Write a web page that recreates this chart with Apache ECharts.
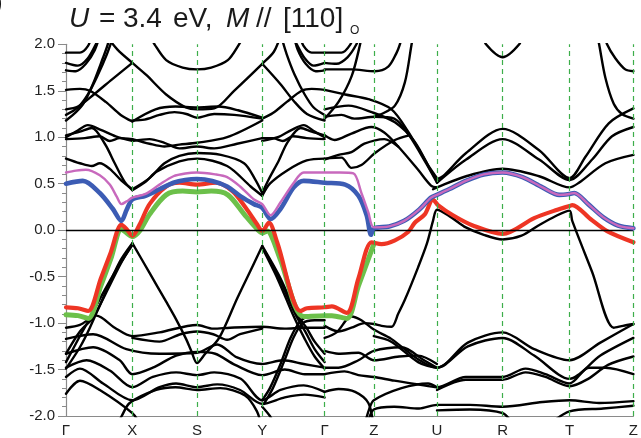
<!DOCTYPE html>
<html><head><meta charset="utf-8">
<script src="https://cdn.jsdelivr.net/npm/echarts@6/dist/echarts.min.js"></script>
<style>html,body{margin:0;padding:0;background:#fff}#c{width:641px;height:438px}</style>
</head><body><div id="c"></div>
<script>
// High-symmetry path
const kLabels = ['Γ','X','S','Y','Γ','Z','U','R','T','Z'];
const kTicks  = [0, 66.7, 131.7, 197.3, 260, 309.5, 373, 439, 506.3, 570.5];
const yTicks  = [-2.0,-1.5,-1.0,-0.5,0.0,0.5,1.0,1.5,2.0];

// Highlighted bands: flat [k, E, k, E, ...]
const pinkBand = [0,0.62, 10,0.64, 20,0.65, 34,0.59, 44,0.49, 51,0.36, 55.7,0.28, 61,0.31, 66.7,0.35, 80,0.39, 94,0.49, 108,0.58, 120,0.61, 131.7,0.62, 150,0.60, 162,0.57, 175,0.47, 189,0.33, 197.3,0.28, 205.7,0.16, 215.7,0.30, 229,0.51, 239,0.62, 260,0.62, 275,0.62, 289,0.61, 297,0.40, 304,0.19, 309.5,0.03, 325,0.04, 340,0.10, 355,0.22, 367,0.35, 373,0.38, 385,0.44, 402,0.53, 420,0.60, 439,0.62, 459,0.57, 479,0.46, 496,0.38, 506.3,0.39, 511,0.40, 525,0.28, 540,0.14, 555,0.05, 570.5,0.02];
const blueBand = [0,0.50, 17,0.53, 34,0.40, 47,0.23, 55.7,0.10, 61,0.22, 66.7,0.33, 80,0.37, 94,0.44, 108,0.51, 120,0.54, 131.7,0.55, 147,0.53, 162,0.47, 176,0.36, 189,0.28, 197.3,0.24, 205.7,0.12, 215.7,0.23, 229,0.46, 239,0.53, 260,0.51, 280.7,0.49, 294,0.37, 302.3,0.16, 306.7,-0.05, 309.5,0.02, 325,0.04, 340,0.10, 355,0.22, 367,0.35, 373,0.38, 385,0.44, 402,0.53, 420,0.60, 439,0.62, 459,0.57, 479,0.46, 496,0.38, 506.3,0.39, 511,0.40, 525,0.28, 540,0.14, 555,0.05, 570.5,0.02];
const redBand = [0,-0.83, 12,-0.84, 22.3,-0.87, 35,-0.52, 45,-0.24, 55.7,0.06, 61,0.01, 66.7,-0.06, 74,0.06, 84,0.28, 100.7,0.47, 114,0.51, 131.7,0.49, 150.7,0.51, 167.3,0.42, 180.7,0.24, 192.3,0.06, 197.3,-0.01, 204,0.08, 212.3,-0.13, 235.7,-0.87, 242.3,-0.84, 260,-0.83, 267.3,-0.82, 282.3,-0.89, 294,-0.52, 307.3,-0.13, 317.3,-0.15, 330.7,-0.11, 344,-0.02, 350.7,0.08, 360.7,0.17, 369,0.33, 374,0.27, 389,0.16, 409,0.05, 439,-0.04, 470.7,0.13, 494,0.22, 506.3,0.26, 509,0.27, 527.3,0.12, 544,-0.01, 570.5,-0.13];
const greenBand = [0,-0.91, 12,-0.92, 22.3,-0.95, 35,-0.60, 45,-0.31, 55.7,0.01, 61,-0.03, 66.7,-0.07, 74,-0.01, 84,0.17, 100.7,0.38, 117.3,0.42, 131.7,0.41, 146,0.42, 162.7,0.38, 179.3,0.17, 189,0.05, 197.3,-0.03, 202.3,-0.01, 207.3,-0.08, 216,-0.33, 239,-0.93, 260,-0.92, 267.3,-0.92, 282.3,-0.95, 294,-0.60, 309.5,-0.15];

// Black bands, upper part, Γ–X
const blackGX = [
 [0,1.91, 14,1.91, 22,1.98, 26,2.1],
 [0,1.80, 12,1.77, 22,1.85, 30,2.0, 34,2.1],
 [0,1.72, 10,1.71, 20,1.79, 29,1.94, 34,2.1],
 [0,1.18, 10,1.27, 18,1.37, 27,1.57, 37,1.85, 42,2.0, 44,2.1],
 [0,1.24, 12,1.32, 22,1.46, 32,1.67, 41,1.89, 48,2.1],
 [0,1.30, 12,1.33, 28,1.46, 46,1.62, 66.7,1.80],
 [0,1.51, 14,1.52, 24,1.50, 40,1.38, 55,1.24, 66.7,1.17],
 [0,1.02, 14,1.06, 26,1.10, 39,0.93, 49,0.72, 59,0.52, 66.7,0.43],
 [0,0.98, 19,0.99, 34,1.01, 44,0.96, 54,0.99, 66.7,0.98],
 [0,1.00, 10,1.06, 22,1.13, 35,1.08, 50,1.01, 66.7,0.96],
 [0,0.77, 14,0.72, 26,0.69, 34,0.72, 44,0.66, 56,0.53, 66.7,0.44]
];
// Black bands, upper part, X–S–Y
const blackXSY = [
 [40,2.1, 52,1.94, 66.7,1.80, 80.7,1.67, 100.7,1.46, 120.7,1.32, 131.7,1.30, 149,1.31, 169,1.50, 197.3,1.79, 209,1.92, 216,2.1],
 [84,2.1, 89,2.0, 100.7,1.83, 117.3,1.75, 131.7,1.73, 146,1.75, 162.7,1.83, 174,2.0, 179,2.1],
 [66.7,1.18, 79,1.19, 94,1.24, 109,1.27, 121,1.25, 131.7,1.21, 149,1.25, 169,1.24, 197.3,1.20],
 [66.7,1.17, 90,1.30, 110,1.33, 131.7,1.32, 153,1.33, 173,1.29, 197.3,1.21],
 [66.7,0.98, 84,0.93, 99,0.90, 114,0.92, 131.7,0.94, 162,1.00, 197.3,1.18],
 [66.7,0.96, 84,0.98, 99,0.94, 114,0.88, 131.7,0.90, 149,0.88, 172,0.93, 197.3,0.99],
 [66.7,0.43, 80,0.52, 91,0.63, 114,0.74, 131.7,0.77, 162,0.69, 185.7,0.47, 197.3,0.37],
 [66.7,0.44, 84,0.56, 99,0.72, 114,0.80, 131.7,0.83, 155.7,0.81, 179,0.72, 190,0.55, 197.3,0.40]
];
// Black bands, upper part, Y–Γ
const blackYG = [
 [235,2.1, 239,1.98, 247,1.91, 260,1.91],
 [228,2.1, 232,2.0, 240,1.85, 249,1.77, 260,1.80],
 [229,2.1, 233,1.94, 241,1.79, 251,1.71, 260,1.72],
 [197.3,1.79, 215.7,1.57, 229,1.39, 242.3,1.25, 260,1.18],
 [216,2.1, 222,1.89, 230,1.67, 240,1.46, 249,1.32, 260,1.24],
 [197.3,1.20, 208,1.26, 222,1.38, 237,1.50, 247,1.52, 260,1.51],
 [197.3,0.40, 204,0.55, 214,0.75, 223,0.95, 236,1.10, 247,1.06, 260,1.02],
 [197.3,0.99, 208,0.99, 218,0.96, 228,1.01, 242,0.99, 260,0.98],
 [197.3,0.96, 213,1.00, 227,1.08, 239,1.13, 250,1.06, 260,1.00],
 [197.3,0.37, 205,0.50, 222,0.64, 242,0.75, 260,0.77]
];
// Black bands, upper part, Γ–Z–U
const blackGZ = [
 [260,1.91, 277,1.91, 286,2.0, 289,2.1],
 [260,1.80, 272,1.79, 283,1.86, 292,2.0, 295,2.1],
 [260,1.73, 287,1.73, 310.7,1.71, 324,1.76, 332,1.9, 335.7,2.0, 338,2.1],
 [260,1.20, 274,1.38, 287.3,1.66, 295.7,2.0, 297,2.1],
 [310.7,1.23, 317.3,1.25, 330.7,1.34, 340.7,1.59, 347.3,1.99, 349,2.1],
 [260,1.51, 280.7,1.46, 304,1.41, 327.3,1.30, 344,1.06, 364,0.70, 373,0.56],
 [260,1.30, 284,1.34, 307.3,1.27, 330.7,1.16, 350.7,0.95, 367.3,0.63, 373,0.54],
 [260,1.22, 277,1.24, 290,1.20, 310.7,1.22, 330,1.20, 345,1.02, 362,0.72, 373,0.51],
 [260,1.02, 270,0.97, 287,1.04, 307,1.11, 320,1.05, 334,0.90, 354,0.65, 367,0.48, 373,0.46],
 [260,0.76, 274,0.81, 287,0.84, 300,0.93, 320,0.98, 334,0.90],
 [260,0.77, 277,0.78, 287,0.67, 297,0.70, 310.7,0.83, 330.7,0.97, 345,1.02]
];
// Black bands, upper part, U–R–T–Z
const blackURTZ = [
 [373,0.55, 379,0.58, 402.3,0.83, 439,1.09, 475.7,0.86, 506.3,0.56, 522.3,0.79, 545.7,1.15, 570.5,1.31],
 [373,0.51, 402.3,0.76, 439,0.98, 475.7,0.76, 506.3,0.54, 529,0.76, 549,1.01, 570.5,1.11],
 [369,0.44, 373,0.46, 402.3,0.58, 439,0.66, 475.7,0.58, 506.3,0.46, 515.7,0.51, 542.3,0.72, 570.5,0.81],
 [534,2.1, 536,2.0, 542.3,1.64, 550.7,1.36, 559,1.25, 570.5,1.20],
 [542,2.1, 544,2.0, 552.3,1.85, 562.3,1.73, 570.5,1.71],
 [420,2.1, 422.3,2.0, 439,1.86, 455.7,2.0, 458,2.1]
];
// Black bands, lower part, Γ–X–S–Y–Γ
const blackLowA = [
 [0,-1.49, 14,-1.26, 24,-1.05, 37.3,-0.73, 54,-0.34, 66.7,-0.14],
 [0,-1.33, 14,-1.09, 27.3,-0.94, 40,-0.68, 55,-0.36, 66.7,-0.15],
 [0,-1.42, 12,-1.18, 22.3,-0.98, 35,-0.72, 52,-0.40, 66.7,-0.16],
 [66.7,-0.14, 84,-0.46, 100.7,-0.77, 110.7,-0.96, 120.7,-1.17, 126,-1.30, 131.7,-1.43, 140,-1.33, 154,-1.16, 172.3,-0.73, 188,-0.38, 197.3,-0.17],
 [197.3,-0.17, 215.7,-0.52, 232.3,-0.91, 242.3,-1.06, 250,-1.20, 260,-1.33],
 [197.3,-0.18, 214,-0.51, 230.3,-0.90, 241,-1.10, 250,-1.28, 260,-1.42],
 [197.3,-0.19, 213,-0.53, 229,-0.93, 240,-1.17, 250,-1.36, 260,-1.49],
 [0,-1.05, 14,-1.02, 30.7,-0.92, 49,-1.05, 66.7,-1.14, 94,-1.10, 131.7,-1.02, 148,-1.06, 165,-1.05, 197.3,-1.04, 220,-1.06, 239,-1.05, 260,-1.05],
 [66.7,-1.16, 94,-1.20, 115,-1.12, 131.7,-1.09, 148,-1.12, 162,-1.18, 175,-1.12, 197.3,-1.06],
 [0,-1.17, 27.3,-1.12, 60.7,-1.28, 94,-1.33, 131.7,-1.32, 152,-1.23, 172,-1.37, 197.3,-1.44, 218,-1.40, 239,-1.44, 260,-1.48],
 [0,-1.33, 27.3,-1.26, 54,-1.40, 66.7,-1.55, 87.3,-1.48, 110.7,-1.35, 131.7,-1.31, 150,-1.33, 170,-1.45, 197.3,-1.56, 220,-1.50, 240,-1.55, 260,-1.55],
 [0,-1.48, 20.7,-1.40, 44,-1.51, 66.7,-1.69, 87.3,-1.58, 110.7,-1.53, 131.7,-1.56, 149,-1.53, 175.7,-1.60, 197.3,-1.83, 215.7,-1.72, 239,-1.67, 260,-1.74],
 [0,-1.58, 14,-1.49, 37.3,-1.65, 66.7,-1.83, 94,-1.69, 110.7,-1.65, 131.7,-1.69, 152,-1.66, 175,-1.72, 197.3,-1.87, 220,-1.80, 240,-1.77, 260,-1.80],
 [0,-1.76, 14,-1.62, 34,-1.72, 66.7,-1.97, 75,-2.1],
 [50.7,-2.1, 56,-2.0, 64,-1.86, 90.7,-1.72, 110,-1.69, 131.7,-1.72, 155,-1.70, 180,-1.78, 192,-1.95, 196,-2.1],
 [197.3,-1.83, 205,-1.70, 215.7,-1.44, 225.7,-1.16, 235.7,-0.98, 245,-0.93, 260,-0.93],
 [199,-1.87, 208,-1.70, 219,-1.42, 229,-1.15, 238,-1.00, 250,-0.97, 260,-0.97],
 [197.3,-1.90, 205,-2.0, 210,-2.1]
];
// Black bands, lower part, Γ–Z–U–R–T–Z
const blackLowB = [
 [260,-1.03, 274,-1.09, 287,-1.05, 300,-1.00, 309.5,-1.01, 317.3,-1.03, 327.3,-1.04, 334,-0.90, 340.7,-0.75, 354,-0.40, 363,-0.14, 369,0.10, 373,0.22, 387,0.14, 402,0.03, 420,-0.05, 439,-0.10, 458,-0.06, 475,0.05, 492,0.15, 506.3,0.21, 509,0.10, 529,-0.45, 550.7,-1.05, 560,-1.03, 570.5,-1.01],
 [260,-1.16, 272,-1.10, 282.3,-0.96, 287,-0.93, 297,-0.97, 309.5,-1.07, 327,-1.17, 354,-1.39, 373,-1.48, 404,-1.21, 439,-1.10, 470.7,-1.28, 506.3,-1.40, 537.3,-1.21, 570.5,-1.01],
 [309.5,-1.14, 327,-1.20, 354,-1.42, 373,-1.48, 404,-1.25, 439,-1.16, 470.7,-1.35, 506.3,-1.60, 537.3,-1.35, 570.5,-1.16],
 [260,-1.30, 274,-1.33, 294,-1.32, 309.5,-1.40, 335,-1.36, 354,-1.35, 373,-1.44],
 [260,-1.48, 274,-1.48, 294,-1.40, 309.5,-1.30, 337.3,-1.26, 360,-1.40, 373,-1.48],
 [260,-1.55, 280,-1.52, 294,-1.56, 309.5,-1.58, 330,-1.62, 354,-1.66, 373,-1.69, 402,-1.58, 439,-1.58, 462,-1.49, 482,-1.55, 506.3,-1.65, 525.7,-1.48, 542.3,-1.48, 570.5,-1.55],
 [373,-1.72, 402,-1.61, 439,-1.61, 462,-1.53, 482,-1.58, 506.3,-1.68, 525,-1.60, 545,-1.45, 570.5,-1.36],
 [260,-1.74, 274,-1.71, 290.7,-1.74, 304,-1.86, 309,-2.1],
 [300,-2.1, 305,-1.92, 309.5,-1.83, 337.3,-1.70, 364,-1.65, 373,-1.69],
 [303,-2.1, 309.5,-1.93, 330,-1.90, 355,-1.92, 373,-1.88, 406,-1.88, 439,-1.90, 479,-1.85, 506.3,-1.83, 536,-1.86, 570.5,-1.84],
 [373,-1.94, 406,-1.93, 439,-1.97, 450,-2.1],
 [485,-2.1, 506.3,-1.95, 540,-1.92, 570.5,-1.89]
];

function pairs(flat){ const out=[]; for(let i=0;i<flat.length;i+=2) out.push([flat[i],flat[i+1]]); return out; }
function band(flat,color,width,z){
  return {type:'line', data:pairs(flat), smooth:0.3, showSymbol:false, symbol:'none',
    lineStyle:{color:color,width:width,cap:'round',join:'round'}, z:z, silent:true, animation:false, clip:true};
}
const series=[];
// guide lines
series.push({type:'line', data:[], z:1, silent:true, animation:false,
  markLine:{silent:true, symbol:'none', animation:false, label:{show:false},
    data: kTicks.slice(1).map(k=>({xAxis:k, lineStyle:{color:'#3dae4a', width:1.2, type:[5,4]}}))
      .concat([{yAxis:0, lineStyle:{color:'#000', width:1.3, type:'solid'}}])}});
[blackGX,blackXSY,blackYG,blackGZ,blackURTZ,blackLowA,blackLowB].forEach(g=>g.forEach(f=>series.push(band(f,'#000',2.4,2))));
series.push(band(greenBand,'#6cc04a',5,3));
series.push(band(redBand,'#ee3524',4.2,4));
series.push(band(blueBand,'#3c5cb4',4.6,5));
series.push(band(pinkBand,'#c869bd',2.4,6));

const chart = echarts.init(document.getElementById('c'), null, {renderer:'canvas'});
const titleFont = '"Liberation Sans", Arial, sans-serif';
const titleParts = [
  {t:'U', x:69, it:true}, {t:'=', x:99}, {t:'3.4', x:123}, {t:'eV,', x:173},
  {t:'M', x:226, it:true}, {t:'//', x:256}, {t:'[110]', x:283}
];
const graphic = titleParts.map(p=>({type:'text', left:p.x, top:5, silent:true,
  style:{text:p.t, font:(p.it?'italic ':'')+'28px '+titleFont, fill:'#1a1a1a'}}));
graphic.push({type:'text', left:350, top:25, silent:true, style:{text:'O', font:'12px '+titleFont, fill:'#1a1a1a'}});
graphic.push({type:'text', left:-6, top:-9, silent:true, style:{text:')', font:'26px '+titleFont, fill:'#1a1a1a'}});

chart.setOption({
  animation:false,
  backgroundColor:'#fff',
  grid:{left:66, right:4.5, top:44.3, bottom:17, containLabel:false},
  graphic: graphic,
  xAxis:{type:'value', min:0, max:570.5,
    axisLine:{show:true, onZero:false, lineStyle:{color:'#8a8a8a', width:1.2}},
    axisTick:{show:false}, splitLine:{show:false},
    axisLabel:{customValues:kTicks, margin:7, fontSize:15, color:'#222', fontFamily:'Liberation Sans, Arial, sans-serif',
      formatter:function(v){ const i=kTicks.findIndex(k=>Math.abs(k-v)<0.01); return i>=0?kLabels[i]:''; }}
  },
  yAxis:{type:'value', min:yTicks[0], max:yTicks[yTicks.length-1], interval:0.5,
    axisLine:{show:true, onZero:false, lineStyle:{color:'#8a8a8a', width:1.2}},
    axisTick:{show:true, length:8, lineStyle:{color:'#8a8a8a'}},
    minorTick:{show:true, splitNumber:5, length:4, lineStyle:{color:'#8a8a8a'}},
    splitLine:{show:false},
    axisLabel:{margin:11, fontSize:15, color:'#222', fontFamily:'Liberation Sans, Arial, sans-serif',
      formatter:function(v){ return (Math.abs(v)<1e-9?0:v).toFixed(1); }}
  },
  series: series
});
</script></body></html>
